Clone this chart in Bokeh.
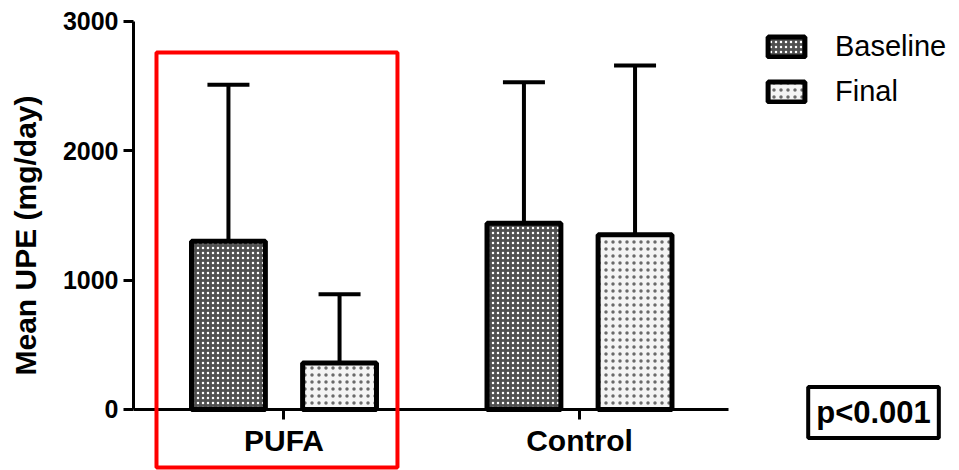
from bokeh.plotting import figure
from bokeh.models import (ColumnDataSource, Range1d, FixedTicker, LinearAxis,
                          Whisker, TeeHead, Legend, LegendItem, BoxAnnotation, Label)
from bokeh.embed import file_html
from bokeh.resources import INLINE

# Mean urinary protein excretion (mg/day) with upper SD
groups = ["PUFA", "Control"]
baseline_mean = [1300, 1440]
baseline_sd = [1210, 1090]
final_mean = [360, 1350]
final_sd = [530, 1310]
y_ticks = [0, 1000, 2000, 3000]
p_text = "p<0.001"

FONT = "Liberation Sans"
OFFSET = 0.188
BAR_W = 0.25

centers = [i + 1 for i in range(len(groups))]
src_base = ColumnDataSource(dict(
    x=[c - OFFSET for c in centers],
    top=baseline_mean,
    upper=[m + s for m, s in zip(baseline_mean, baseline_sd)],
))
src_final = ColumnDataSource(dict(
    x=[c + OFFSET for c in centers],
    top=final_mean,
    upper=[m + s for m, s in zip(final_mean, final_sd)],
))

p = figure(width=959, height=470, output_backend="svg", toolbar_location=None,
           x_range=Range1d(0.4907, 3.286), y_range=Range1d(-472, 3162),
           x_axis_type=None, y_axis_type=None,
           min_border_left=133, min_border_right=0, min_border_top=0, min_border_bottom=0)
p.title = None
p.outline_line_color = None
p.xgrid.visible = False
p.ygrid.visible = False

# y axis
yax = LinearAxis(bounds=(0, 3000), ticker=FixedTicker(ticks=y_ticks),
                 axis_label="Mean UPE (mg/day)")
yax.axis_line_width = 3
yax.major_tick_line_width = 3
yax.major_tick_out = 10
yax.major_tick_in = 0
yax.minor_tick_line_color = None
yax.major_label_text_font = FONT
yax.major_label_text_font_style = "bold"
yax.major_label_text_font_size = "25px"
yax.major_label_text_color = "black"
yax.axis_label_text_font = FONT
yax.axis_label_text_font_style = "bold"
yax.axis_label_text_font_size = "30px"
yax.axis_label_text_color = "black"
yax.axis_label_standoff = 18
p.add_layout(yax, "left")

# x axis sitting at y = 0
xax = LinearAxis(bounds=(0.4907, 2.505), ticker=FixedTicker(ticks=centers),
                 fixed_location=0)
xax.major_label_overrides = {c: g for c, g in zip(centers, groups)}
xax.axis_line_width = 3
xax.major_tick_line_width = 3
xax.major_tick_out = 10
xax.major_tick_in = 0
xax.minor_tick_line_color = None
xax.major_label_text_font = FONT
xax.major_label_text_font_style = "bold"
xax.major_label_text_font_size = "30px"
xax.major_label_text_color = "black"
xax.major_label_standoff = 5
p.add_layout(xax, "below")

# bars
rb = p.vbar(x="x", top="top", bottom=0, width=BAR_W, source=src_base,
            fill_color="#505050", line_color="black", line_width=5,
            hatch_pattern="dot", hatch_color="white", hatch_scale=5, hatch_weight=1.8)
rf = p.vbar(x="x", top="top", bottom=0, width=BAR_W, source=src_final,
            fill_color="#f4f4f4", line_color="black", line_width=5,
            hatch_pattern="dot", hatch_color="#6a6a6a", hatch_scale=7, hatch_weight=3)

# upper error bars
for src in (src_base, src_final):
    w = Whisker(source=src, base="x", lower="top", upper="upper", dimension="height",
                line_width=4, line_color="black",
                upper_head=TeeHead(size=42, line_width=4, line_color="black"),
                lower_head=None)
    p.add_layout(w)

# highlight around the PUFA group
p.add_layout(BoxAnnotation(left=0.5685, right=1.384, bottom=-448, top=2760,
                           fill_alpha=0, line_color="#ff0000", line_alpha=1.0,
                           line_width=4))

# p-value box
p.add_layout(Label(x=2.995, y=-23, text=p_text, text_align="center",
                   text_baseline="middle", text_font=FONT, text_font_style="bold",
                   text_font_size="31px", text_color="black",
                   border_line_color="black", border_line_width=4,
                   background_fill_color="white", padding=8))

legend = Legend(items=[LegendItem(label="Baseline", renderers=[rb]),
                       LegendItem(label="Final", renderers=[rf])],
                location=(630, 362))
legend.label_text_font = FONT
legend.label_text_font_size = "29px"
legend.label_text_color = "black"
legend.glyph_width = 46
legend.glyph_height = 25
legend.label_standoff = 26
legend.label_height = 25
legend.spacing = 12
legend.padding = 0
legend.margin = 0
legend.border_line_alpha = 0
legend.background_fill_alpha = 0
p.add_layout(legend)

open("out.html", "w").write(file_html(p, INLINE))
